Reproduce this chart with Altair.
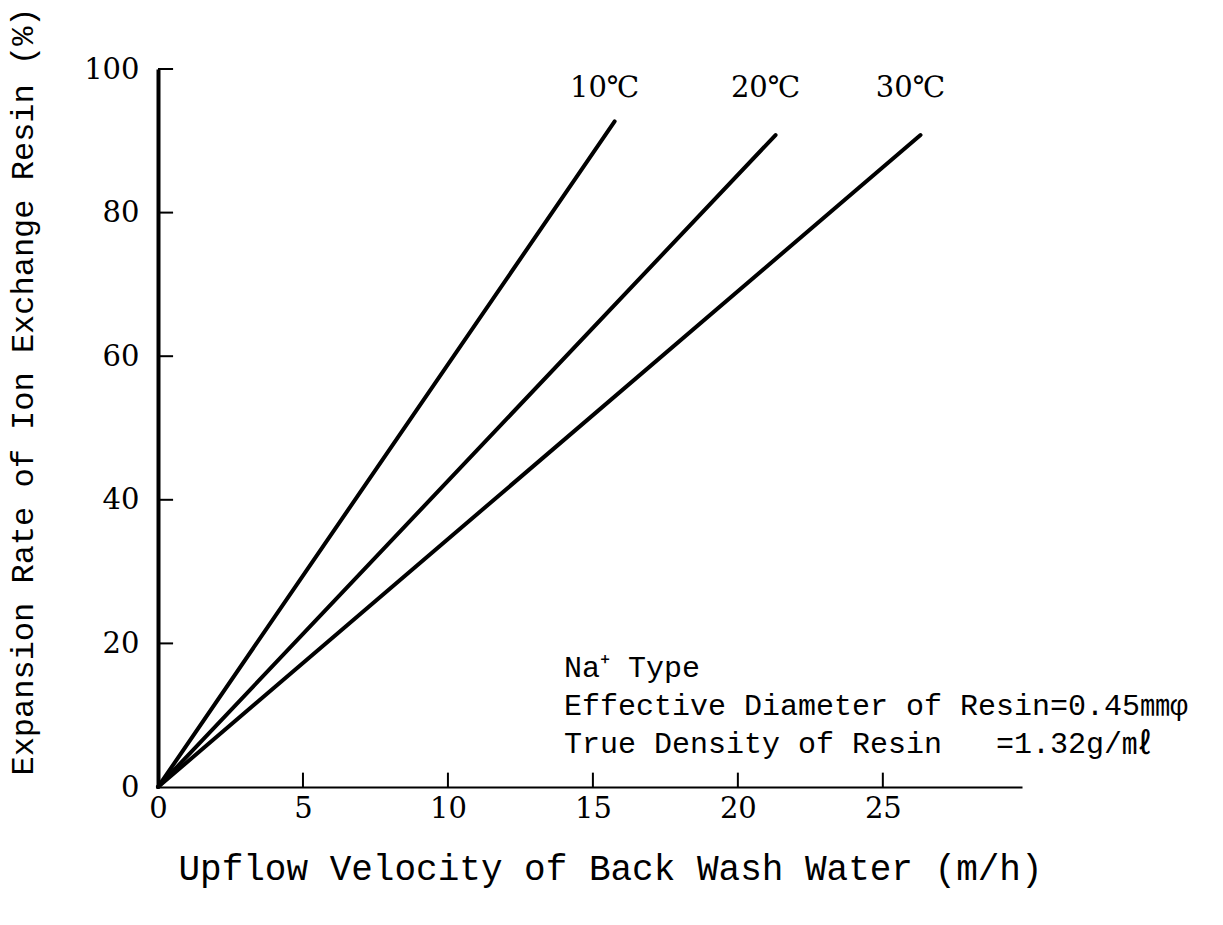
import altair as alt
import pandas as pd

# ---- data ----
temps = ["10℃", "20℃", "30℃"]
end_velocity = [15.75, 21.3, 26.3]      # m/h at the upper end of each line
end_expansion = [92.7, 90.8, 90.8]      # % at the upper end of each line
x_tick_values = [0, 5, 10, 15, 20, 25]
y_tick_values = [0, 20, 40, 60, 80, 100]
NB = "\u00a0"
notes = [
    "Na⁺ Type",
    "Effective Diameter of Resin=0.45㎜φ",
    "True Density of Resin" + NB * 3 + "=1.32g/㎖",
]

SERIF = "DejaVu Serif, Noto Serif CJK JP, Noto Sans CJK JP"
MONO = "Liberation Mono, Noto Sans CJK JP"

rows = []
for t, vx, vy in zip(temps, end_velocity, end_expansion):
    rows.append({"temp": t, "v": 0.0, "e": 0.0, "o": 0})
    rows.append({"temp": t, "v": vx, "e": vy, "o": 1})
lines_df = pd.DataFrame(rows)
ends_df = pd.DataFrame({"temp": temps, "v": end_velocity, "e": end_expansion})
xt_df = pd.DataFrame({"v": [v for v in x_tick_values if v > 0]})
yt_df = pd.DataFrame({"e": [v for v in y_tick_values if v > 0]})

x_scale = alt.Scale(domain=[0, 29.8], nice=False)
y_scale = alt.Scale(domain=[0, 100], nice=False)

x_enc = alt.X(
    "v:Q",
    scale=x_scale,
    axis=alt.Axis(
        values=x_tick_values,
        title="Upflow Velocity of Back Wash Water (m/h)",
        grid=False,
        ticks=False,
        tickSize=0,
        domainColor="black",
        domainWidth=2,
        labelFont=SERIF,
        labelFontSize=29,
        labelColor="black",
        labelPadding=7,
        labelFlush=False,
        titleFont=MONO,
        titleFontSize=36,
        titleFontWeight="normal",
        titleColor="black",
        titleX=452,
        titleY=81,
        titleAlign="center",
        titleBaseline="middle",
    ),
)
y_enc = alt.Y(
    "e:Q",
    scale=y_scale,
    axis=alt.Axis(
        values=y_tick_values,
        title="Expansion Rate of Ion Exchange Resin (%)",
        grid=False,
        ticks=False,
        tickSize=0,
        domainColor="black",
        domainWidth=4,
        labelFont=SERIF,
        labelFontSize=29,
        labelColor="black",
        labelPadding=19,
        labelFlush=False,
        titleFont=MONO,
        titleFontSize=32,
        titleFontWeight="normal",
        titleColor="black",
        titleAngle=270,
        titleX=-136,
        titleY=322,
        titleAlign="center",
        titleBaseline="middle",
    ),
)

lines = alt.Chart(lines_df).mark_line(
    color="black", strokeWidth=4, strokeCap="round"
).encode(x=x_enc, y=y_enc, detail="temp:N", order="o:Q")

labels = alt.Chart(ends_df).mark_text(
    font=SERIF, fontSize=29, color="black", align="center", baseline="middle", dx=-10
).encode(x=alt.X("v:Q", scale=x_scale), y=alt.value(19), text="temp:N")

xticks = alt.Chart(xt_df).mark_rule(color="black", strokeWidth=2).encode(
    x=alt.X("v:Q", scale=x_scale), y=alt.datum(0), y2=alt.datum(2.0)
)
yticks = alt.Chart(yt_df).mark_rule(color="black", strokeWidth=2).encode(
    y=alt.Y("e:Q", scale=y_scale), x=alt.datum(0), x2=alt.datum(0.52)
)

note = alt.Chart(pd.DataFrame({"a": [0]})).mark_text(
    font=MONO, fontSize=30, color="black", align="left", baseline="middle", lineHeight=38
).encode(x=alt.datum(14.0), y=alt.datum(16.6), text=alt.value(notes))

chart = (
    alt.layer(lines, xticks, yticks, labels, note)
    .properties(
        width=864,
        height=718,
        autosize=alt.AutoSizeParams(type="none"),
        padding={"left": 158, "top": 69, "right": 201, "bottom": 138},
        background="white",
    )
    .configure_view(stroke=None)
)

chart.save("out.html", embed_options={"renderer": "svg", "actions": False})
